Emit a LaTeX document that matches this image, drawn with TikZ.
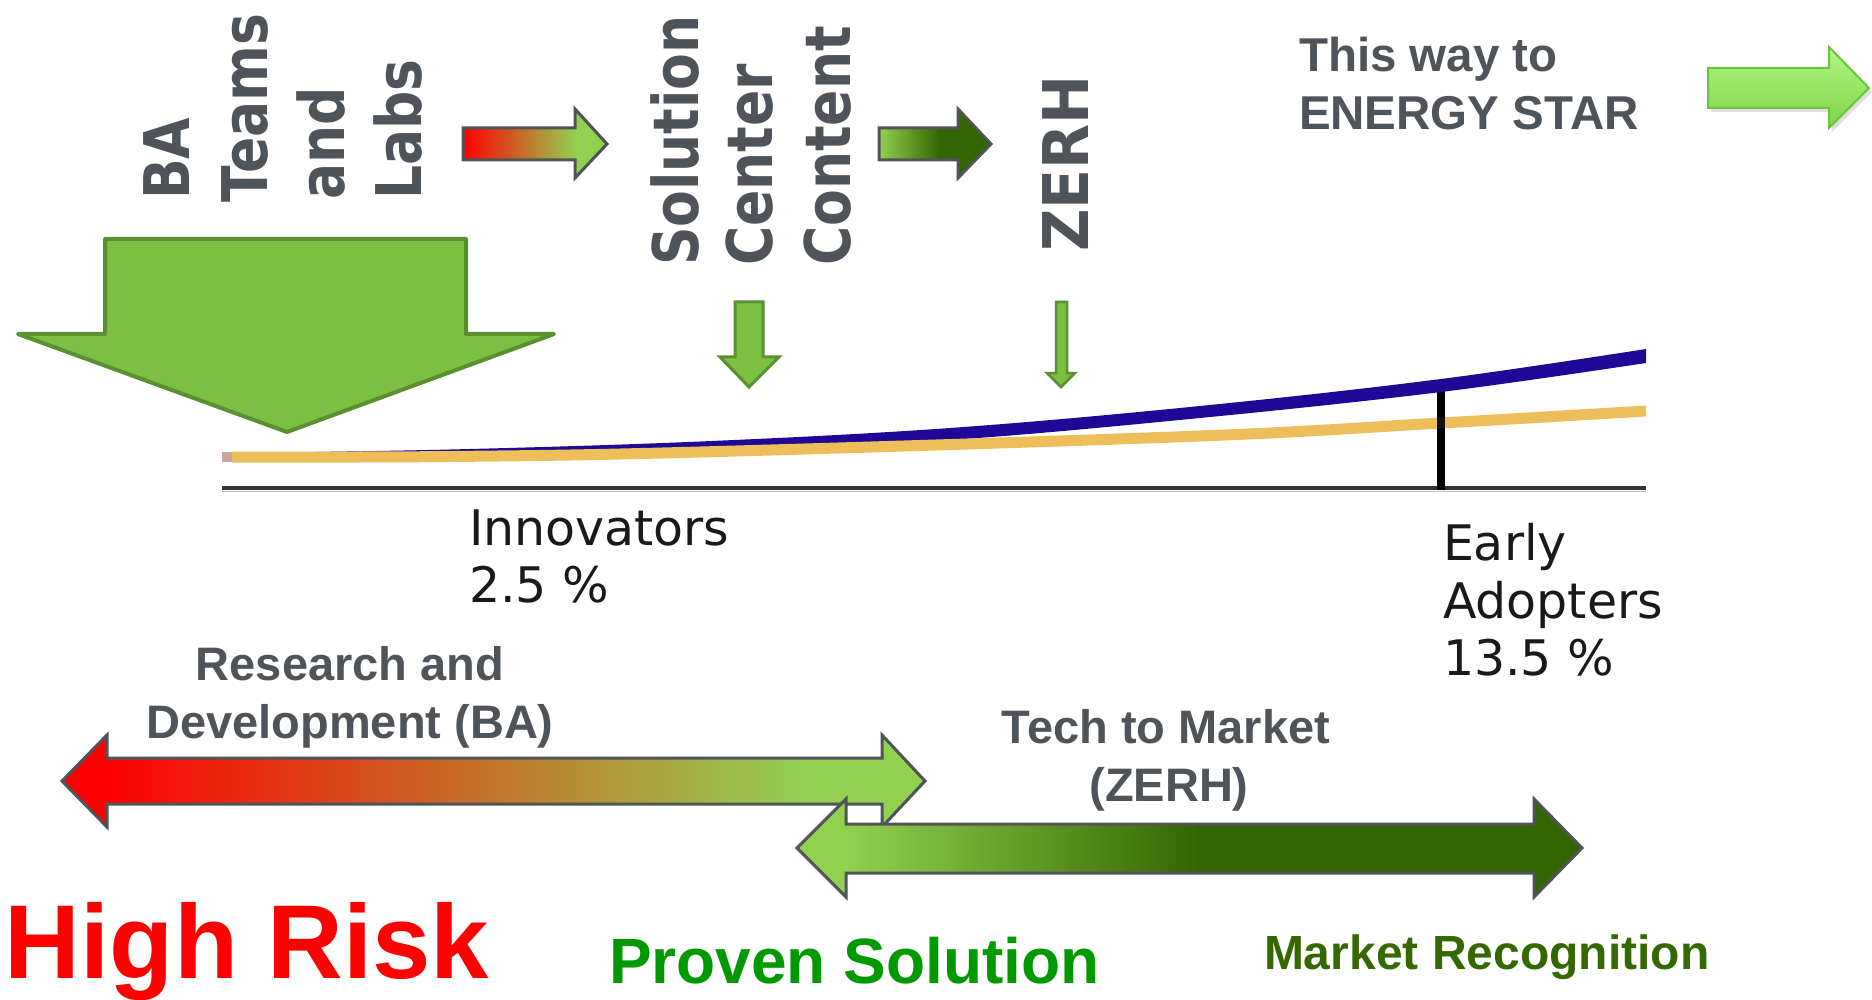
\documentclass[tikz,border=0pt]{standalone}
\usepackage{fontspec}
\setmainfont{Liberation Sans}
\newfontfamily\vfont[FakeStretch=0.85]{DejaVu Sans}
\newfontfamily\vfontz[FakeStretch=0.93]{DejaVu Sans}
\newfontfamily\dvfont{DejaVu Sans}
\usetikzlibrary{shadows}
\definecolor{txtgray}{HTML}{4F545A}
\definecolor{argreen}{HTML}{7BC043}
\definecolor{ardark}{HTML}{5A9030}
\definecolor{lgreen}{HTML}{92D050}
\definecolor{dgreen}{HTML}{336600}
\definecolor{curveblue}{HTML}{1E0896}
\definecolor{curveorange}{HTML}{EEBE5B}
\definecolor{riskred}{HTML}{FF0000}
\definecolor{provgreen}{HTML}{009900}
\definecolor{mktgreen}{HTML}{366800}
\definecolor{axisgray}{HTML}{333333}
\definecolor{esTop}{HTML}{B3F58A}
\definecolor{esBot}{HTML}{7ED443}
\definecolor{esLine}{HTML}{6CC43C}
\definecolor{stubcol}{HTML}{C4A8A0}
\pgfdeclarehorizontalshading{rdshade}{100bp}{color(0bp)=(riskred); color(27.3bp)=(riskred); color(67.8bp)=(lgreen); color(100bp)=(lgreen)}
\pgfdeclarehorizontalshading{ttmshade}{100bp}{color(0bp)=(lgreen); color(28.1bp)=(lgreen); color(50.7bp)=(dgreen); color(100bp)=(dgreen)}
\pgfdeclarehorizontalshading{smallrg}{100bp}{color(0bp)=(riskred); color(25bp)=(riskred); color(64bp)=(lgreen); color(100bp)=(lgreen)}
\pgfdeclarehorizontalshading{smallgd}{100bp}{color(0bp)=(lgreen); color(25bp)=(lgreen); color(52bp)=(dgreen); color(100bp)=(dgreen)}
\tikzset{
  lbl/.style={inner sep=0pt, outer sep=0pt, anchor=base west},
  vlbl/.style={lbl, rotate=90, text=txtgray, font=\vfont\bfseries\fontsize{63}{63}\selectfont},
  graylbl/.style={text=txtgray, font=\bfseries\fontsize{47}{47}\selectfont},
  curvelbl/.style={lbl, text=black!90, font=\dvfont\fontsize{49}{49}\selectfont},
  greenar/.style={fill=argreen, draw=ardark, line join=miter},
  gradar/.style={draw=txtgray, line width=3pt, line join=miter},
}
\begin{document}
\begin{tikzpicture}[x=1pt,y=-1pt]
\useasboundingbox (0,0) rectangle (1872,1000);
\fill[white] (0,0) rectangle (1872,1000);

% big down arrow
\draw[greenar, line width=4pt, line join=round] (105,239) -- (466,239) -- (466,334) -- (554,334) -- (287,432) -- (18,334) -- (105,334) -- cycle;

% vertical labels
\node[vlbl] (tBA) at (189,200) {BA};
\node[vlbl] (tTeams) at (267,203) {Teams};
\node[vlbl] (tAnd) at (344,200) {and};
\node[vlbl] (tLabs) at (421,200) {Labs};
\node[vlbl] (tSol) at (698,266) {Solution};
\node[vlbl] (tCen) at (772,266) {Center};
\node[vlbl] (tCon) at (850,266) {Content};
\node[vlbl, font=\vfontz\bfseries\fontsize{63}{63}\selectfont] (tZERH) at (1088,252) {ZERH};

% small gradient arrows at top
\shadedraw[gradar, shading=smallrg] (463,128) -- (575,128) -- (575,109) -- (607,144) -- (575,178) -- (575,160) -- (463,160) -- cycle;
\shadedraw[gradar, shading=smallgd] (879,128) -- (958,128) -- (958,109) -- (991,144) -- (958,178) -- (958,160) -- (879,160) -- cycle;

% small green down arrows
\draw[greenar, line width=3pt] (735,302) -- (763,302) -- (763,357) -- (779,357) -- (749,387) -- (720,357) -- (735,357) -- cycle;
\draw[greenar, line width=2.5pt] (1056,302) -- (1067,302) -- (1067,373) -- (1075,373) -- (1061,387) -- (1047,373) -- (1056,373) -- cycle;

% energy star arrow
\path[drop shadow={opacity=0.25, shadow xshift=3pt, shadow yshift=-4pt}, top color=esTop, bottom color=esBot, draw=esLine, line width=2pt, line join=miter]
  (1708,68) -- (1829,68) -- (1829,47) -- (1869,88) -- (1829,128) -- (1829,108) -- (1708,108) -- cycle;
\node[lbl, graylbl, font=\bfseries\fontsize{47.5}{47.5}\selectfont] (tThis) at (1299,72) {This way to};
\node[lbl, graylbl, font=\bfseries\fontsize{47.5}{47.5}\selectfont] (tEnergy) at (1299,130) {ENERGY STAR};

% adoption curves
\draw[line width=1.5pt, black!25] (222,491.5) -- (1646,491.5);
\draw[axisgray, line width=3.5pt] (222,488) -- (1646,488);
\fill[stubcol] (222,452) rectangle (232,462);
\draw[black, line width=8pt] (1441,388) -- (1441,490);
\fill[curveblue] plot[smooth, tension=0.6] coordinates {(240,453) (450,449.5) (700,441.5) (950,428) (1200,406) (1441,379) (1646,349)}
  -- plot[smooth, tension=0.6] coordinates {(1646,363) (1441,392) (1200,418) (950,440) (700,452) (450,458) (240,458)} -- cycle;
\draw[curveorange, line width=11pt] plot[smooth, tension=0.6] coordinates {(232,457) (450,456.5) (700,452) (1200,436) (1441,423) (1646,411)};
\draw[black, line width=8pt, opacity=0.9] (1441,417) -- (1441,430);

\node[curvelbl] (tInnov) at (469,545) {Innovators};
\node[curvelbl] (tInnovPct) at (469,602) {2.5 \%};
\node[curvelbl] (tEarly) at (1443,560) {Early};
\node[curvelbl] (tAdopt) at (1443,618) {Adopters};
\node[curvelbl] (tEarlyPct) at (1443,675) {13.5 \%};

% double arrows
\shadedraw[gradar, shading=rdshade] (62,781) -- (107,735) -- (107,758) -- (882,758) -- (882,735) -- (925,781) -- (882,827) -- (882,804) -- (107,804) -- (107,827) -- cycle;
\shadedraw[gradar, shading=ttmshade] (797,848) -- (846,799) -- (846,824) -- (1534,824) -- (1534,799) -- (1582,848) -- (1534,897) -- (1534,873) -- (846,873) -- (846,897) -- cycle;

\node[graylbl, inner sep=0pt, anchor=base] (tRD1) at (350,680) {Research and};
\node[graylbl, inner sep=0pt, anchor=base] (tRD2) at (350,738) {Development (BA)};
\node[graylbl, inner sep=0pt, anchor=base] (tTTM1) at (1166,743) {Tech to Market};
\node[graylbl, inner sep=0pt, anchor=base] (tTTM2) at (1169,801) {(ZERH)};

% bottom labels
\node[lbl, text=riskred, font=\bfseries\fontsize{105}{105}\selectfont] (tRisk) at (5,978) {High Risk};
\node[lbl, text=provgreen, font=\bfseries\fontsize{64}{64}\selectfont] (tProven) at (609,983) {Proven Solution};
\node[lbl, text=mktgreen, font=\bfseries\fontsize{48}{48}\selectfont] (tMarket) at (1264,969) {Market Recognition};
\end{tikzpicture}
\end{document}
